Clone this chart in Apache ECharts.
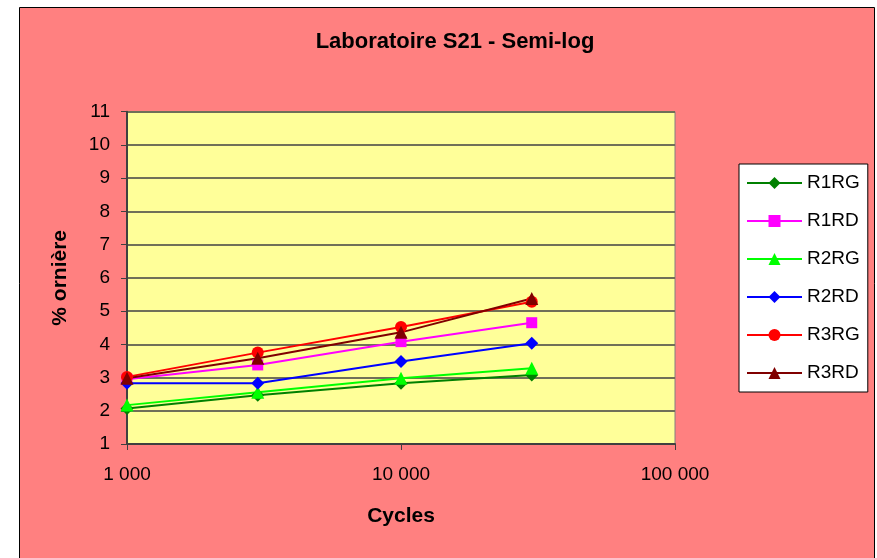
<!DOCTYPE html>
<html>
<head>
<meta charset="utf-8">
<script src="https://cdn.jsdelivr.net/npm/echarts@6/dist/echarts.min.js"></script>
<style>
  html, body { margin: 0; padding: 0; background: #fff; }
  #chart { width: 877px; height: 558px; }
</style>
</head>
<body>
<div id="chart"></div>
<script>
// cycles (x, log scale)
const cycles = [1000, 3000, 10000, 30000];

// % ornière per section
const r1rg = [2.07, 2.47, 2.83, 3.08];
const r1rd = [2.95, 3.38, 4.08, 4.65];
const r2rg = [2.17, 2.56, 2.98, 3.28];
const r2rd = [2.83, 2.83, 3.48, 4.03];
const r3rg = [3.02, 3.75, 4.52, 5.28];
const r3rd = [2.98, 3.58, 4.36, 5.38];

const seriesNames = ['R1RG', 'R1RD', 'R2RG', 'R2RD', 'R3RG', 'R3RD'];
const seriesValues = [r1rg, r1rd, r2rg, r2rd, r3rg, r3rd];
const seriesColors = ['#008000', '#FF00FF', '#00FF00', '#0000FF', '#FF0000', '#800000'];
const seriesSymbols = ['diamond', 'rect', 'triangle', 'diamond', 'circle', 'triangle'];
const symbolSizes = [13, 11, 13, 13, 12, 13];

const chart = echarts.init(document.getElementById('chart'));

const fmtThousands = (v) => String(Math.round(v)).replace(/\B(?=(\d{3})+(?!\d))/g, ' ');

chart.setOption({
  animation: false,
  backgroundColor: '#fff',
  textStyle: { fontFamily: 'Liberation Sans, Arial, sans-serif' },
  graphic: {
    elements: [{
      type: 'rect',
      z: -100,
      silent: true,
      shape: { x: 19.5, y: 7.5, width: 855, height: 600 },
      style: { fill: '#FF8080', stroke: '#000', lineWidth: 1 }
    }]
  },
  title: {
    text: 'Laboratoire S21 - Semi-log',
    left: 450,
    textAlign: 'center',
    top: 26,
    textStyle: { fontSize: 22, fontWeight: 'bold', color: '#000' }
  },
  legend: {
    orient: 'vertical',
    left: 739,
    top: 164,
    padding: [9, 8, 9, 7],
    backgroundColor: '#fff',
    borderColor: '#000',
    borderWidth: 1,
    itemWidth: 55,
    itemHeight: 15,
    itemGap: 18,
    textStyle: { fontSize: 19, lineHeight: 20, color: '#000' },
    data: seriesNames
  },
  grid: {
    left: 127,
    top: 111.7,
    right: 202,
    bottom: 114,
    show: true,
    backgroundColor: '#FFFF99',
    borderColor: '#808080',
    borderWidth: 1
  },
  xAxis: {
    type: 'log',
    logBase: 10,
    min: 1000,
    max: 100000,
    name: 'Cycles',
    nameLocation: 'middle',
    nameGap: 62,
    nameTextStyle: { fontSize: 21, fontWeight: 'bold', color: '#000' },
    axisLine: { lineStyle: { color: '#404040', width: 2 } },
    axisTick: { show: true, length: 6, lineStyle: { color: '#404040' } },
    minorTick: { show: false },
    splitLine: { show: false },
    axisLabel: { fontSize: 19, color: '#000', margin: 21, formatter: fmtThousands }
  },
  yAxis: {
    type: 'value',
    min: 1,
    max: 11,
    interval: 1,
    name: '% ornière',
    nameLocation: 'middle',
    nameGap: 56,
    nameTextStyle: { fontSize: 21, fontWeight: 'bold', color: '#000' },
    axisLine: { show: true, lineStyle: { color: '#404040', width: 2 } },
    axisTick: { show: true, length: 6, lineStyle: { color: '#404040' } },
    splitLine: { show: true, lineStyle: { color: '#707058', width: 2 } },
    axisLabel: { fontSize: 19, color: '#000', margin: 17 }
  },
  series: seriesNames.map((name, i) => ({
    name: name,
    type: 'line',
    data: cycles.map((c, j) => [c, seriesValues[i][j]]),
    symbol: seriesSymbols[i],
    symbolSize: symbolSizes[i],
    lineStyle: { color: seriesColors[i], width: 2 },
    itemStyle: { color: seriesColors[i] }
  }))
});
</script>
</body>
</html>
